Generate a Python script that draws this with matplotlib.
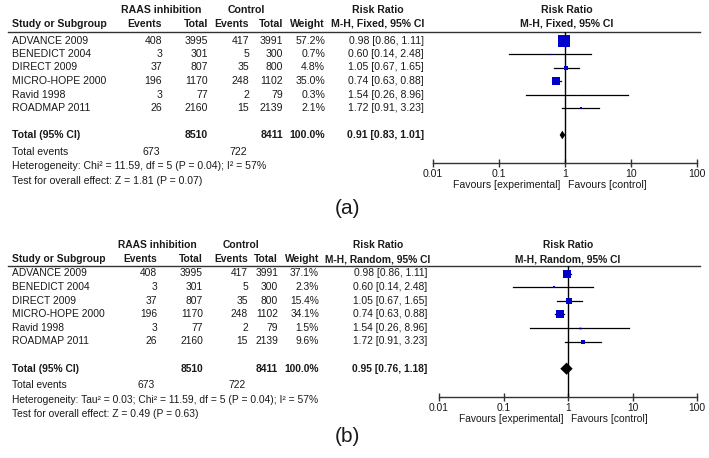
import matplotlib
matplotlib.use("Agg")
import matplotlib.pyplot as plt
import matplotlib.ticker as ticker
import numpy as np

plt.rcParams['font.family'] = ['Liberation Sans', 'DejaVu Sans']

# data
studies = ["ADVANCE 2009", "BENEDICT 2004", "DIRECT 2009",
           "MICRO-HOPE 2000", "Ravid 1998", "ROADMAP 2011"]
raas_events = [408, 3, 37, 196, 3, 26]
raas_total = [3995, 301, 807, 1170, 77, 2160]
ctrl_events = [417, 5, 35, 248, 2, 15]
ctrl_total = [3991, 300, 800, 1102, 79, 2139]
rr = [0.98, 0.60, 1.05, 0.74, 1.54, 1.72]
ci_lo = [0.86, 0.14, 0.67, 0.63, 0.26, 0.91]
ci_hi = [1.11, 2.48, 1.65, 0.88, 8.96, 3.23]
weight_fixed = [57.2, 0.7, 4.8, 35.0, 0.3, 2.1]
weight_random = [37.1, 2.3, 15.4, 34.1, 1.5, 9.6]
pooled_fixed = (0.91, 0.83, 1.01)
pooled_random = (0.95, 0.76, 1.18)
sum_raas_total, sum_ctrl_total = 8510, 8411
sum_raas_events, sum_ctrl_events = 673, 722
het_fixed = "Heterogeneity: Chi\u00b2 = 11.59, df = 5 (P = 0.04); I\u00b2 = 57%"
het_random = "Heterogeneity: Tau\u00b2 = 0.03; Chi\u00b2 = 11.59, df = 5 (P = 0.04); I\u00b2 = 57%"
test_fixed = "Test for overall effect: Z = 1.81 (P = 0.07)"
test_random = "Test for overall effect: Z = 0.49 (P = 0.63)"
tick_vals = [0.01, 0.1, 1, 10, 100]
tick_labels = ["0.01", "0.1", "1", "10", "100"]

W, H = 709, 458
SQ = '#0000cc'

fig = plt.figure(figsize=(W / 100, H / 100), dpi=100)
bg = fig.add_axes([0, 0, 1, 1])
bg.set_xlim(0, W)
bg.set_ylim(H, 0)
bg.axis('off')


def draw_panel(L, method, weights, pooled, het, test, label):
    fs = L['fs']

    def txt(x, y, s, ha='left', bold=False, size=fs):
        bg.text(x, y, s, ha=ha, va='center', fontsize=size,
                fontweight='bold' if bold else 'normal', color='#1a1a1a')

    # header
    y1, y2 = L['hdr1'], L['hdr2']
    txt(L['raas_c'], y1, "RAAS inhibition", ha='center', bold=True)
    txt(L['ctrl_c'], y1, "Control", ha='center', bold=True)
    txt(L['rr_c'], y1, "Risk Ratio", ha='center', bold=True)
    txt(L['plot_c'], y1, "Risk Ratio", ha='center', bold=True)
    txt(12, y2, "Study or Subgroup", bold=True)
    txt(L['ev1'], y2, "Events", ha='right', bold=True)
    txt(L['tot1'], y2, "Total", ha='right', bold=True)
    txt(L['ev2'], y2, "Events", ha='right', bold=True)
    txt(L['tot2'], y2, "Total", ha='right', bold=True)
    txt(L['w'], y2, "Weight", ha='right', bold=True)
    sub = "M-H, %s, 95%% CI" % method
    txt(L['rr_c'], y2, sub, ha='center', bold=True)
    txt(L['plot_c'], y2, sub, ha='center', bold=True)
    bg.plot([8, 700], [L['line'], L['line']], color='#333333', lw=1.0)

    # study rows
    for i in range(len(studies)):
        y = L['row0'] + i * L['dy']
        txt(12, y, studies[i])
        txt(L['ev1'], y, str(raas_events[i]), ha='right')
        txt(L['tot1'], y, str(raas_total[i]), ha='right')
        txt(L['ev2'], y, str(ctrl_events[i]), ha='right')
        txt(L['tot2'], y, str(ctrl_total[i]), ha='right')
        txt(L['w'], y, "%.1f%%" % weights[i], ha='right')
        txt(L['rr_r'], y, "%.2f [%.2f, %.2f]" % (rr[i], ci_lo[i], ci_hi[i]), ha='right')

    yt = L['row0'] + 7 * L['dy']
    txt(12, yt, "Total (95% CI)", bold=True)
    txt(L['tot1'], yt, str(sum_raas_total), ha='right', bold=True)
    txt(L['tot2'], yt, str(sum_ctrl_total), ha='right', bold=True)
    txt(L['w'], yt, "100.0%", ha='right', bold=True)
    txt(L['rr_r'], yt, "%.2f [%.2f, %.2f]" % pooled, ha='right', bold=True)
    txt(12, yt + L['ev_gap'], "Total events")
    txt(L['ev1'] - 2, yt + L['ev_gap'], str(sum_raas_events), ha='right')
    txt(L['ev2'] - 2, yt + L['ev_gap'], str(sum_ctrl_events), ha='right')
    txt(12, yt + L['het_gap'], het)
    txt(12, yt + L['test_gap'], test)
    txt(347, L['label_y'], label, ha='center', size=15)

    # forest plot axes: log x, row index y
    x0, x1 = L['px0'], 697
    top, bot = L['line'], L['axis_y']
    ax = fig.add_axes([x0 / W, 1 - bot / H, (x1 - x0) / W, (bot - top) / H])
    ax.set_xscale('log')
    ax.set_xlim(0.01, 100)
    ax.set_ylim((bot - L['row0']) / L['dy'], (top - L['row0']) / L['dy'])
    ax.patch.set_alpha(0)
    for s in ['top', 'left', 'right']:
        ax.spines[s].set_visible(False)
    ax.spines['bottom'].set_linewidth(1.0)
    ax.spines['bottom'].set_color('#333333')
    ax.set_yticks([])
    ax.xaxis.set_major_locator(ticker.FixedLocator(tick_vals))
    ax.xaxis.set_major_formatter(ticker.FixedFormatter(tick_labels))
    ax.xaxis.set_minor_locator(ticker.NullLocator())
    ax.tick_params(axis='x', direction='inout', length=6, width=1.0,
                   color='#333333', labelsize=fs, labelcolor='#1a1a1a', pad=1.5)
    ax.axvline(1, color='black', lw=1.0)

    rows = np.arange(len(studies))
    for i in rows:
        ax.plot([ci_lo[i], ci_hi[i]], [i, i], color='black', lw=0.9)
        ax.plot(rr[i], i, marker='s', color=SQ, ms=1.05 * np.sqrt(weights[i]),
                mew=0, linestyle='none')
    est, lo, hi = pooled
    h = L['dia_h']
    ax.fill([lo, est, hi, est], [7, 7 - h, 7, 7 + h], color='black', lw=0)

    ax.annotate("Favours [experimental]", xy=(1, 0), xycoords=('data', 'axes fraction'),
                xytext=(-3, -16), textcoords='offset points', ha='right', va='center',
                fontsize=fs, color='#1a1a1a')
    ax.annotate("Favours [control]", xy=(1, 0), xycoords=('data', 'axes fraction'),
                xytext=(2, -16), textcoords='offset points', ha='left', va='center',
                fontsize=fs, color='#1a1a1a')


layout_a = dict(fs=7.6, hdr1=10, hdr2=24, line=31.5, row0=40.5, dy=13.5,
                raas_c=161, ctrl_c=246, rr_c=378, plot_c=567,
                ev1=162, tot1=208, ev2=249, tot2=283, w=325, rr_r=424,
                ev_gap=17, het_gap=31, test_gap=46, label_y=209,
                px0=433, axis_y=163, dia_h=0.32)
layout_b = dict(fs=7.4, hdr1=245, hdr2=259, line=266, row0=273.5, dy=13.6,
                raas_c=157, ctrl_c=241, rr_c=378, plot_c=568,
                ev1=157, tot1=203, ev2=248, tot2=278, w=319, rr_r=427,
                ev_gap=16, het_gap=31, test_gap=45, label_y=437,
                px0=439, axis_y=397, dia_h=0.45)

draw_panel(layout_a, "Fixed", weight_fixed, pooled_fixed, het_fixed, test_fixed, "(a)")
draw_panel(layout_b, "Random", weight_random, pooled_random, het_random, test_random, "(b)")

fig.savefig("out.png", dpi=100)
